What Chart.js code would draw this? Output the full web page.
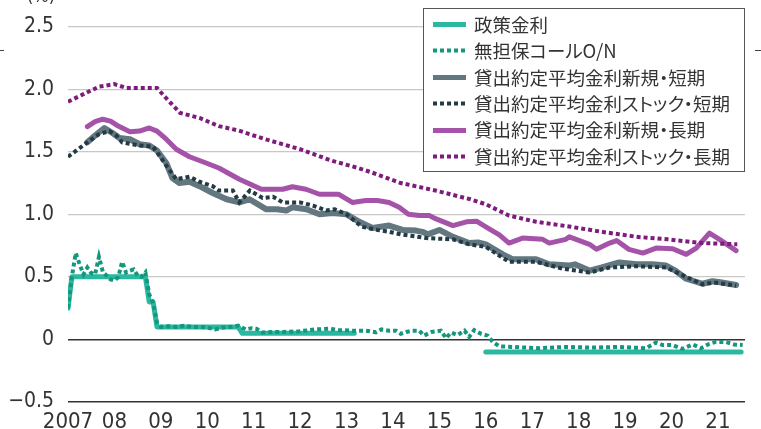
<!DOCTYPE html>
<html>
<head>
<meta charset="utf-8">
<script src="https://cdn.jsdelivr.net/npm/chart.js@4.4.1/dist/chart.umd.min.js"></script>
<style>
html,body{margin:0;padding:0;background:#fff;}
#wrap{width:761px;height:429px;position:relative;}
#legendText{position:absolute;left:474px;top:10.8px;margin:0;padding:0;list-style:none;
  font-family:"Noto Sans CJK JP","Noto Sans",sans-serif;font-size:18.5px;color:#333;
  font-feature-settings:"palt" 1;}
#legendText li{height:26.4px;line-height:26.4px;white-space:nowrap;}
</style>
</head>
<body>
<div id="wrap"><canvas id="c" width="761" height="429"></canvas><ul id="legendText"></ul></div>
<script>
// x values are months since January 2007 (0 = 2007/01)
const seriesNames = ['政策金利','無担保コールO/N','貸出約定平均金利新規・短期','貸出約定平均金利ストック・短期','貸出約定平均金利新規・長期','貸出約定平均金利ストック・長期'];
const yearTickMonths = [0,12,24,36,48,60,72,84,96,108,120,132,144,156,168];
const yearTickLabels = ['2007','08','09','10','11','12','13','14','15','16','17','18','19','20','21'];
const yTickValues = [-0.5,0,0.5,1.0,1.5,2.0,2.5];

const policyMonths = [0,1,20,21,22,23,44,45,74,75,108,174];
const policyRates  = [0.25,0.5,0.5,0.3,0.3,0.1,0.1,0.05,0.05,null,-0.1,-0.1];

const callMonths = [0,1,2,3,4,5,6,7,8,9,10,11,12,13,14,15,16,17,18,19,20,21,22,23,24,26,28,30,32,34,36,38,40,42,44,46,47.4,48.7,50.3,53,55.6,59.8,64,67.6,70,73.5,77,79.6,81,83,84.8,86,87.4,89,90.8,92,94,96.4,97.7,99,100.7,102.5,103.7,105,106.8,108.5,109.8,111.5,115,121.8,128.7,135.6,142.5,149.4,152,153.7,156.3,158.8,161.5,163.6,165.8,167.5,170,172.2,174.4];
const callRates  = [0.25,0.5,0.69,0.6,0.52,0.575,0.53,0.52,0.66,0.54,0.51,0.48,0.47,0.5,0.62,0.535,0.55,0.56,0.51,0.5,0.535,0.36,0.29,0.135,0.1,0.105,0.1,0.11,0.1,0.1,0.095,0.08,0.095,0.1,0.11,0.08,0.09,0.085,0.055,0.06,0.06,0.065,0.08,0.085,0.075,0.07,0.07,0.057,0.08,0.07,0.07,0.045,0.06,0.07,0.07,0.03,0.06,0.07,0.01,0.055,0.035,0.07,0.02,0.075,0.045,0.03,-0.02,-0.055,-0.06,-0.07,-0.06,-0.065,-0.06,-0.07,-0.025,-0.045,-0.045,-0.075,-0.04,-0.07,-0.035,-0.02,-0.02,-0.04,-0.045];

const newShortMonths = [5,7,9.4,11.5,13.3,16,18.5,21,23,25.4,27,28.8,31.4,34,37.4,41,44.3,46.9,51.3,54,56.4,58,61.6,65,68.4,72,75.3,78.7,83,86.5,90,91.6,93,96,99.5,103.7,106,108,112.4,115,121,124.4,129.6,131,134.8,138,142.5,147,151,154.6,157,159.8,164,166.6,169,172.7];
const newShortRates  = [1.575,1.63,1.69,1.65,1.61,1.6,1.56,1.55,1.51,1.41,1.29,1.25,1.26,1.225,1.17,1.12,1.095,1.12,1.04,1.04,1.03,1.056,1.04,1.0,1.01,1.0,0.94,0.89,0.91,0.875,0.87,0.86,0.84,0.875,0.82,0.77,0.775,0.76,0.68,0.64,0.64,0.6,0.59,0.6,0.55,0.575,0.615,0.6,0.6,0.59,0.55,0.485,0.445,0.465,0.455,0.435];

const stockShortMonths = [0,5,8,10.7,12.5,14,18.5,22,23.6,25.4,28,31.4,34,37.4,39,42.6,44.3,47,50.3,53,55.5,60,63.3,66.7,69,72,76,80,83,86,92.6,99.5,103.7,108,114,121,128,134.8,140,147,154.6,159.8,164,167,172.7];
const stockShortRates  = [1.46,1.575,1.64,1.665,1.63,1.575,1.55,1.54,1.47,1.39,1.28,1.3,1.26,1.225,1.19,1.19,1.095,1.19,1.13,1.14,1.095,1.095,1.07,1.03,1.04,1.0,0.9,0.875,0.86,0.84,0.81,0.8,0.76,0.74,0.62,0.62,0.565,0.535,0.575,0.585,0.575,0.5,0.44,0.455,0.43];

const newLongMonths = [5,7,9,11,13,16,18.5,21,23,25.4,28,31.4,35.7,39,44.3,50,55.5,58,61.5,65,70,73.5,77,80,83,85.6,88,90.8,93.4,95,99.5,103,105.6,108,111.5,114,117.5,122.7,124.4,128.7,129.6,134.8,136.6,140,141.8,145,148.6,152,156.3,159.8,162.4,165.8,168.4,172.7];
const newLongRates  = [1.7,1.74,1.76,1.745,1.705,1.66,1.665,1.69,1.665,1.6,1.52,1.46,1.41,1.37,1.28,1.2,1.2,1.22,1.2,1.16,1.16,1.095,1.11,1.11,1.095,1.056,1.0,0.99,0.99,0.965,0.91,0.94,0.945,0.9,0.835,0.77,0.81,0.8,0.77,0.8,0.82,0.76,0.72,0.77,0.79,0.72,0.69,0.73,0.725,0.68,0.73,0.85,0.8,0.71];

const stockLongMonths = [0,4,8,12,15,23,25,29,34,39,44,51,60,68,75,78,86,95,104,108,114,121,130,138,147,155,164,173];
const stockLongRates  = [1.9,1.96,2.02,2.04,2.01,2.01,1.94,1.81,1.77,1.705,1.67,1.6,1.52,1.43,1.37,1.34,1.25,1.19,1.12,1.08,0.99,0.94,0.9,0.86,0.82,0.8,0.77,0.76];

const pts = (xs, ys) => xs.map((x, i) => ({x: x, y: ys[i]}));

const NARROW = '"Liberation Sans Narrow","DejaVu Sans Condensed","Liberation Sans",sans-serif';

const datasets = [
  {label: seriesNames[0], data: pts(policyMonths, policyRates), borderColor:'#2bb8a1', borderWidth:5, borderCapStyle:'round', borderJoinStyle:'round', order:5, spanGaps:false},
  {label: seriesNames[1], data: pts(callMonths, callRates), borderColor:'#14977c', borderWidth:4, borderDash:[4,3], borderCapStyle:'butt', order:0},
  {label: seriesNames[2], data: pts(newShortMonths, newShortRates), borderColor:'#62777f', borderWidth:6, borderCapStyle:'round', borderJoinStyle:'round', order:4},
  {label: seriesNames[3], data: pts(stockShortMonths, stockShortRates), borderColor:'#243a44', borderWidth:4, borderDash:[4,3], borderCapStyle:'butt', order:1},
  {label: seriesNames[4], data: pts(newLongMonths, newLongRates), borderColor:'#a453a9', borderWidth:5, borderCapStyle:'round', borderJoinStyle:'round', order:3},
  {label: seriesNames[5], data: pts(stockLongMonths, stockLongRates), borderColor:'#7d1c7c', borderWidth:4, borderDash:[4,3], borderCapStyle:'butt', order:2}
];
datasets.forEach(d => { d.pointRadius = 0; d.pointHoverRadius = 0; d.fill = false; d.tension = 0; });

// legend labels as HTML text (proportional kana like the reference)
const ul = document.getElementById('legendText');
seriesNames.forEach(n => { const li = document.createElement('li'); li.textContent = n; ul.appendChild(li); });

const legendPlugin = {
  id: 'customLegend',
  afterDraw(chart) {
    const ctx = chart.ctx;
    ctx.save();
    ctx.fillStyle = '#fff';
    ctx.fillRect(423.5, 8.5, 321, 163);
    ctx.strokeStyle = '#555';
    ctx.lineWidth = 1;
    ctx.strokeRect(423.5, 8.5, 321, 163);
    chart.data.datasets.forEach((d, i) => {
      const y = Math.round(24 + i * 26.4) + 0.5;
      ctx.beginPath();
      ctx.strokeStyle = d.borderColor;
      ctx.lineWidth = d.borderDash ? 4 : 5;
      ctx.lineCap = 'butt';
      ctx.setLineDash(d.borderDash || []);
      ctx.moveTo(433, y);
      ctx.lineTo(466, y);
      ctx.stroke();
      ctx.setLineDash([]);
    });
    ctx.fillStyle = '#333';
    ctx.font = '18px ' + NARROW;
    ctx.textAlign = 'center';
    ctx.textBaseline = 'alphabetic';
    ctx.fillText('(%)', 41, 2);
    ctx.strokeStyle = '#444';
    ctx.lineWidth = 1;
    ctx.beginPath();
    ctx.moveTo(0, 50.5); ctx.lineTo(4, 50.5);
    ctx.moveTo(755, 50.5); ctx.lineTo(761, 50.5);
    ctx.stroke();
    ctx.restore();
  }
};

new Chart(document.getElementById('c'), {
  type: 'line',
  data: { datasets: datasets },
  options: {
    responsive: false,
    animation: false,
    events: [],
    layout: { padding: { top: 17, right: 16, left: 0, bottom: 0 } },
    plugins: { legend: { display: false }, tooltip: { enabled: false }, title: { display: false } },
    scales: {
      x: {
        type: 'linear',
        min: 0,
        max: 175,
        border: { display: false },
        grid: { display: false, drawTicks: false },
        afterBuildTicks: (s) => { s.ticks = yearTickMonths.map(v => ({value: v})); },
        afterFit: (s) => { s.height = 27; },
        ticks: {
          autoSkip: false,
          maxRotation: 0,
          padding: 7,
          color: '#333',
          font: { family: NARROW, size: 22 },
          callback: (v) => { const i = yearTickMonths.indexOf(v); return i >= 0 ? yearTickLabels[i] : ''; }
        }
      },
      y: {
        min: -0.5,
        max: 2.5,
        border: { display: false },
        afterBuildTicks: (s) => { s.ticks = yTickValues.map(v => ({value: v})); },
        afterFit: (s) => { s.width = 68; },
        grid: {
          drawTicks: false,
          color: (c) => (c.tick && c.tick.value <= 0) ? '#333' : '#c8c8c8',
          lineWidth: (c) => (c.tick && c.tick.value <= 0) ? 1.5 : 1.2
        },
        ticks: {
          padding: 14,
          color: '#333',
          font: { family: NARROW, size: 21 },
          callback: (v) => v === 0 ? '0' : (v < 0 ? '\u2212' + Math.abs(v).toFixed(1) : v.toFixed(1))
        }
      }
    }
  },
  plugins: [legendPlugin]
});
</script>
</body>
</html>
